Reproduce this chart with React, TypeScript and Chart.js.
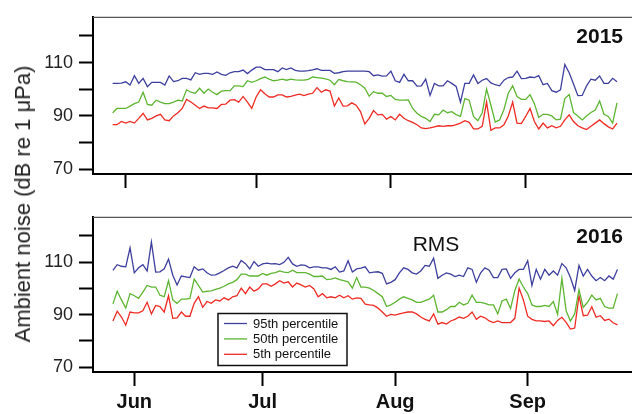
import React, { useEffect, useRef } from 'react';
import { Chart, registerables } from 'chart.js';

Chart.register(...registerables);

const FONT = '"Liberation Sans", Arial, Helvetica, sans-serif';

// x positions are days counted from 1 June
const monthTickDays = [0, 30, 61, 92];
const monthTickLabels = ['Jun', 'Jul', 'Aug', 'Sep'];
const yTickValues = [70, 80, 90, 100, 110, 120];
const yLabelledTicks = [70, 90, 110];
const seriesLabels = ['95th percentile', '50th percentile', '5th percentile'];
const seriesColors = ['#3d3f9e', '#5db531', '#ee2a22'];

// 2015: daily values from 29 May (day -3) to 22 Sep (day 113)
const start2015 = -3;
const p95_2015 = [
  102.2, 102.2, 102.3, 102.8, 101.6, 105.1, 102.2, 104.1, 101.0, 102.6,
  102.6, 102.6, 101.6, 105.0, 102.9, 103.2, 104.1, 104.1, 103.5, 106.2,
  105.6, 106.0, 106.0, 105.6, 106.5, 105.6, 105.2, 106.2, 106.6, 106.6,
  107.2, 105.9, 107.2, 108.3, 108.3, 107.4, 107.4, 107.4, 106.6, 108.0,
  107.4, 108.0, 107.1, 106.8, 106.8, 107.0, 107.3, 107.7, 107.1, 107.1,
  107.1, 106.0, 106.2, 106.6, 106.8, 106.8, 106.8, 106.8, 106.8, 106.6,
  105.1, 105.4, 104.9, 105.0, 106.8, 103.2, 102.6, 105.6, 103.2, 103.2,
  101.2, 101.3, 103.8, 97.7, 102.2, 101.3, 101.3, 103.2,
  102.2, 101.1, 95.2, 102.2, 102.2, 105.4, 102.2, 103.4, 104.0, 102.4,
  101.7, 101.3, 103.4, 104.4, 104.6, 106.8, 104.0, 104.1, 104.6, 104.4,
  105.1, 101.7, 102.2, 99.5, 98.9, 99.8, 109.3, 106.2, 102.0, 97.6,
  97.7, 101.3, 103.8, 103.4, 105.0, 102.2, 102.2, 104.1, 102.8,
];
const p50_2015 = [
  91.2, 92.8, 92.8, 92.8, 93.7, 94.6, 95.2, 98.9, 94.3, 94.0,
  95.9, 95.2, 94.6, 94.6, 95.2, 95.9, 95.6, 99.8, 98.9, 98.5,
  100.4, 98.5, 100.1, 98.9, 98.0, 99.3, 99.5, 99.5, 101.3, 101.3,
  101.0, 103.2, 102.6, 103.2, 104.0, 104.6, 103.8, 103.2, 103.4, 103.8,
  103.4, 103.8, 103.5, 103.4, 103.4, 103.7, 104.6, 104.4, 104.2, 103.9,
  103.4, 101.7, 103.7, 103.2, 102.9, 102.8, 102.7, 101.7, 100.4, 97.4,
  99.1, 98.5, 98.5, 97.3, 97.7, 96.2, 95.9, 95.9, 96.0, 92.8,
  91.0, 89.8, 89.1, 87.9, 90.6, 90.4, 92.2, 91.2,
  91.6, 90.5, 89.8, 96.5, 95.9, 89.8, 88.2, 91.2, 100.1, 94.0,
  87.7, 88.5, 92.4, 98.5, 101.3, 97.3, 96.2, 96.2, 98.0, 94.6,
  89.4, 90.6, 90.6, 90.0, 88.5, 88.8, 96.5, 98.0, 91.2, 90.0,
  88.5, 90.0, 91.3, 92.2, 95.6, 90.6, 89.8, 87.3, 94.9,
];
const p5_2015 = [
  86.7, 86.7, 87.9, 87.3, 87.9, 87.3, 89.1, 91.0, 88.5, 89.1,
  90.0, 90.6, 88.5, 88.2, 90.0, 91.2, 92.8, 96.2, 95.2, 94.0,
  92.8, 93.7, 93.0, 93.0, 92.8, 94.3, 94.4, 95.9, 96.1, 95.2,
  97.3, 95.2, 92.8, 97.1, 99.8, 98.3, 97.1, 97.1, 97.9, 97.9,
  97.1, 97.3, 97.8, 98.2, 97.6, 98.2, 98.5, 100.6, 98.9, 99.8,
  99.3, 93.7, 96.7, 93.7, 93.8, 94.9, 94.0, 91.6, 87.0, 89.1,
  92.0, 90.4, 90.6, 88.8, 89.8, 88.5, 90.6, 89.1, 88.2, 87.6,
  86.7, 85.5, 85.2, 85.5, 85.9, 86.3, 86.1, 86.3,
  86.3, 86.7, 87.3, 88.2, 87.6, 85.1, 85.1, 86.1, 95.2, 84.6,
  85.5, 85.5, 86.7, 90.0, 95.2, 87.3, 87.1, 89.8, 92.8, 87.9,
  85.1, 87.3, 85.5, 86.3, 85.5, 86.1, 88.5, 90.4, 87.9, 86.3,
  85.5, 84.9, 86.1, 87.3, 88.5, 87.1, 85.9, 85.1, 87.3,
];

// 2016: daily values from 27 May (day -5) to 22 Sep (day 113)
const start2016 = -5;
const p95_2016 = [
  106.8, 109.0, 108.4, 108.2, 115.4, 105.9, 107.8, 109.0, 106.6, 117.6,
  106.2, 106.3, 107.4, 111.1, 105.0, 101.3, 104.7, 104.4, 104.1, 108.2,
  106.9, 107.4, 105.9, 105.0, 105.1, 105.9, 106.8, 107.8, 108.4, 107.8,
  110.6, 109.4, 107.4, 110.2, 108.4, 109.3, 109.6, 109.3, 109.4, 109.0,
  109.9, 111.8, 109.3, 108.4, 108.9, 108.7, 107.8, 108.2, 108.2, 107.8,
  107.8, 107.2, 108.2, 106.2, 106.6, 110.5, 106.2, 107.4, 107.7, 108.2,
  105.9, 106.2, 106.3, 105.7, 101.7, 102.3, 103.3, 105.9, 107.8, 107.2,
  105.9, 105.4, 106.6, 108.7, 108.4, 111.5, 103.8, 105.0, 105.9, 105.4,
  104.5, 105.0, 104.5, 107.8, 107.2, 102.3, 105.9, 107.8, 106.9, 104.1,
  104.1, 107.2, 107.4, 103.8, 105.9, 107.2, 107.2, 110.5, 101.1, 107.2,
  103.5, 107.2, 105.0, 106.6, 105.0, 109.4, 107.8, 104.1, 99.2, 108.7,
  104.7, 107.2, 104.7, 102.9, 104.1, 102.9, 104.7, 103.5, 107.2,
];
const p50_2016 = [
  94.1, 98.9, 95.6, 92.5, 98.0, 97.2, 96.2, 98.6, 101.1, 100.5,
  100.5, 97.4, 96.8, 102.9, 95.6, 94.3, 95.9, 95.9, 96.2, 103.5,
  101.1, 98.6, 98.9, 99.0, 99.6, 100.1, 100.8, 101.7, 102.3, 103.3,
  105.4, 105.4, 104.7, 104.7, 104.7, 105.7, 105.0, 105.7, 106.0, 106.6,
  106.2, 106.0, 106.9, 106.0, 106.0, 106.0, 105.4, 104.5, 104.5, 104.7,
  103.3, 103.5, 104.0, 103.3, 102.9, 102.5, 100.1, 104.1, 100.5, 100.5,
  100.1, 99.2, 98.0, 96.8, 93.1, 93.7, 94.7, 95.9, 96.8, 96.2,
  95.6, 94.7, 94.7, 95.3, 95.9, 97.4, 91.0, 91.0, 91.9, 93.1,
  93.1, 94.7, 93.7, 94.3, 97.4, 94.7, 94.7, 94.3, 93.7, 93.7,
  90.3, 95.2, 95.9, 92.3, 99.2, 103.5, 100.5, 98.0, 93.7, 93.1,
  93.1, 93.5, 93.1, 95.0, 90.1, 103.8, 91.5, 87.6, 90.3, 99.5,
  92.8, 94.7, 97.4, 95.6, 96.2, 93.1, 92.5, 92.5, 98.0,
];
const p5_2016 = [
  87.6, 91.3, 89.1, 86.0, 91.0, 90.7, 90.7, 91.5, 94.7, 90.3,
  93.5, 93.1, 91.0, 97.2, 88.6, 88.8, 91.0, 89.4, 89.4, 94.3,
  96.8, 92.8, 95.0, 94.3, 95.6, 95.2, 96.4, 95.6, 96.8, 97.2,
  100.1, 98.0, 100.5, 98.9, 99.8, 101.7, 101.7, 100.8, 101.7, 102.9,
  102.0, 102.5, 100.5, 102.0, 101.3, 100.5, 101.1, 99.8, 96.8, 98.0,
  96.4, 96.8, 96.4, 97.4, 96.4, 97.2, 95.9, 96.4, 96.2, 94.0,
  93.7, 93.5, 92.5, 91.0, 89.4, 90.1, 89.8, 90.3, 90.7, 91.0,
  91.0, 90.3, 89.1, 88.2, 87.6, 90.3, 86.4, 87.0, 86.4, 87.6,
  88.2, 89.1, 88.6, 89.4, 91.0, 88.2, 89.4, 88.8, 87.6, 87.0,
  87.6, 87.0, 87.0, 87.0, 88.6, 100.1, 95.6, 89.4, 88.2, 87.6,
  87.6, 87.4, 87.6, 85.8, 87.8, 89.0, 87.1, 84.5, 84.9, 97.2,
  89.6, 89.8, 93.0, 89.0, 89.6, 87.8, 88.3, 86.9, 86.1,
];

type PanelProps = {
  top: number;
  height: number;
  padTop: number;
  axisHeight: number;
  xMin: number;
  xMax: number;
  startDay: number;
  series: number[][];
  year: string;
  showMonthLabels: boolean;
  showRms: boolean;
  showLegend: boolean;
};

function Panel(props: PanelProps) {
  const ref = useRef<HTMLCanvasElement>(null);
  useEffect(() => {
    const canvas = ref.current;
    if (!canvas) return;
    const datasets = props.series.map((vals, k) => ({
      label: seriesLabels[k],
      data: vals.map((v, i) => ({ x: props.startDay + i, y: v })),
      borderColor: seriesColors[k],
      backgroundColor: seriesColors[k],
      borderWidth: 1.3,
      pointRadius: 0,
      fill: false,
      tension: 0,
    }));

    const deco = {
      id: 'deco',
      afterDraw(chart: any) {
        const { ctx, chartArea: a } = chart;
        ctx.save();
        // top frame line
        ctx.strokeStyle = '#555';
        ctx.lineWidth = 1.2;
        ctx.beginPath();
        ctx.moveTo(a.left, a.top + 0.5);
        ctx.lineTo(a.right, a.top + 0.5);
        ctx.stroke();
        // year
        ctx.fillStyle = '#111';
        ctx.font = `bold 21px ${FONT}`;
        ctx.textAlign = 'right';
        ctx.textBaseline = 'alphabetic';
        ctx.fillText(props.year, a.right - 9, a.top + 26.5);
        if (props.showRms) {
          ctx.font = `21px ${FONT}`;
          ctx.textAlign = 'center';
          ctx.fillText('RMS', 436, a.top + 34);
        }
        if (props.showLegend) {
          const bx = 218, by = 113.5, bw = 129, bh = 52;
          ctx.fillStyle = '#fff';
          ctx.fillRect(bx, by, bw, bh);
          ctx.strokeStyle = '#111';
          ctx.lineWidth = 1.5;
          ctx.strokeRect(bx, by, bw, bh);
          ctx.font = `13px ${FONT}`;
          ctx.textAlign = 'left';
          ctx.textBaseline = 'middle';
          chart.data.datasets.forEach((ds: any, k: number) => {
            const ly = by + 10 + k * 15.4;
            ctx.strokeStyle = ds.borderColor;
            ctx.lineWidth = 1.3;
            ctx.beginPath();
            ctx.moveTo(bx + 6, ly);
            ctx.lineTo(bx + 29, ly);
            ctx.stroke();
            ctx.fillStyle = '#111';
            ctx.fillText(ds.label, bx + 35, ly + 0.5);
          });
        }
        ctx.restore();
      },
    };

    const chart = new Chart(canvas, {
      type: 'line',
      data: { datasets: datasets as any },
      options: {
        responsive: false,
        animation: false,
        layout: { padding: { top: props.padTop, left: 0, right: 0, bottom: 0 } },
        plugins: { legend: { display: false }, tooltip: { enabled: false } },
        scales: {
          x: {
            type: 'linear',
            min: props.xMin,
            max: props.xMax,
            afterBuildTicks: (s: any) => {
              s.ticks = monthTickDays.map((v) => ({ value: v }));
            },
            afterFit: (s: any) => {
              s.height = props.axisHeight;
            },
            ticks: {
              autoSkip: false,
              maxRotation: 0,
              padding: 4,
              color: '#111',
              font: { family: FONT, size: 20, weight: 'bold' },
              callback: (v: any) => {
                if (!props.showMonthLabels) return '';
                const idx = monthTickDays.indexOf(Number(v));
                return idx >= 0 ? monthTickLabels[idx] : '';
              },
            },
            grid: {
              drawOnChartArea: false,
              drawTicks: true,
              tickLength: 14,
              tickWidth: 2,
              tickColor: '#000',
            },
            border: { display: true, color: '#000', width: 2 },
          },
          y: {
            type: 'linear',
            min: 68.2,
            max: 127.2,
            afterBuildTicks: (s: any) => {
              s.ticks = yTickValues.map((v) => ({ value: v }));
            },
            afterFit: (s: any) => {
              s.width = 93;
            },
            ticks: {
              padding: 6,
              color: '#222',
              font: { family: FONT, size: 18 },
              callback: (v: any) => (yLabelledTicks.includes(Number(v)) ? String(v) : ''),
            },
            grid: {
              drawOnChartArea: false,
              drawTicks: true,
              tickLength: 14,
              tickWidth: 2,
              tickColor: '#000',
            },
            border: { display: true, color: '#000', width: 2 },
          },
        },
      } as any,
      plugins: [deco],
    });
    return () => chart.destroy();
  }, []);
  return (
    <canvas
      ref={ref}
      width={632}
      height={props.height}
      style={{ position: 'absolute', left: 0, top: props.top, width: 632, height: props.height }}
    />
  );
}

export default function App() {
  return (
    <div
      style={{
        position: 'fixed',
        left: 0,
        top: 0,
        width: 632,
        height: 414,
        background: '#fff',
        overflow: 'hidden',
      }}
    >
      <Panel
        top={0}
        height={200}
        padTop={13}
        axisHeight={26}
        xMin={-7.52}
        xMax={116.45}
        startDay={start2015}
        series={[p95_2015, p50_2015, p5_2015]}
        year="2015"
        showMonthLabels={false}
        showRms={false}
        showLegend={false}
      />
      <Panel
        top={200}
        height={214}
        padTop={11}
        axisHeight={42}
        xMin={-9.66}
        xMax={116.4}
        startDay={start2016}
        series={[p95_2016, p50_2016, p5_2016]}
        year="2016"
        showMonthLabels={true}
        showRms={true}
        showLegend={true}
      />
      <div
        style={{
          position: 'absolute',
          left: 23,
          top: 204,
          transform: 'translate(-50%, -50%) rotate(-90deg)',
          font: `22px ${FONT}`,
          color: '#222',
          whiteSpace: 'nowrap',
          lineHeight: 1,
        }}
      >
        Ambient noise (dB re 1 μPa)
      </div>
    </div>
  );
}
